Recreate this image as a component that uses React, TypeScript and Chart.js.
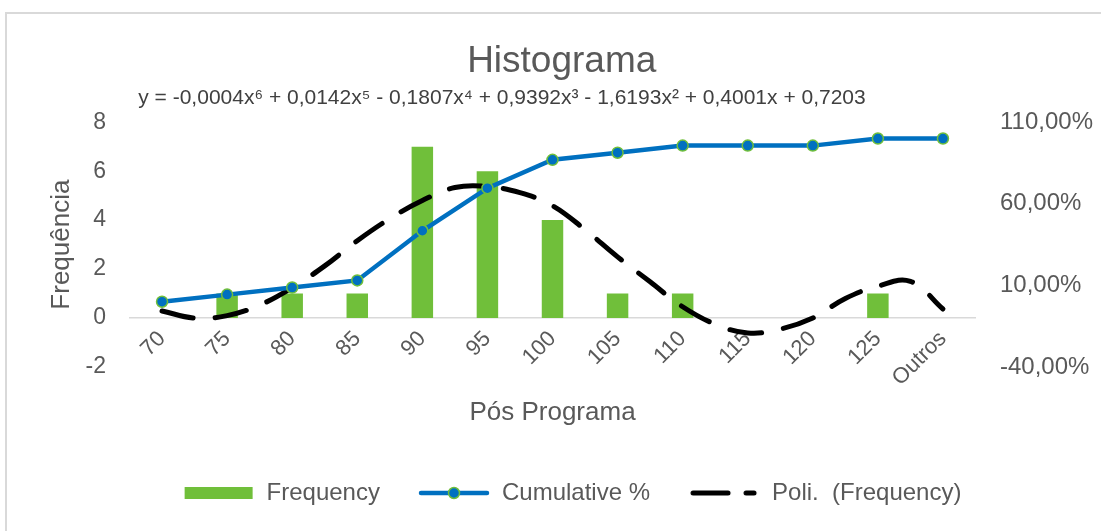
import React, { useEffect, useRef } from 'react';
import { Chart, registerables } from 'chart.js';

Chart.register(...registerables);

const categories = ['70', '75', '80', '85', '90', '95', '100', '105', '110', '115', '120', '125', 'Outros'];
const frequency = [0, 1, 1, 1, 7, 6, 4, 1, 1, 0, 0, 1, 0];
const cumulative = [0, 0.0435, 0.087, 0.1304, 0.4348, 0.6957, 0.8696, 0.913, 0.9565, 0.9565, 0.9565, 1, 1];
// polynomial trendline at half-category steps (1 = "70")
const polyX = [1, 1.5, 2, 2.5, 3, 3.5, 4, 4.5, 5, 5.5, 6, 6.5, 7, 7.5, 8, 8.5, 9, 9.5, 10, 10.5, 11, 11.5, 12, 12.5, 13];
const polyY = [0.29, 0.0, 0.1, 0.53, 1.24, 2.13, 3.16, 4.06, 4.8, 5.33, 5.37, 5.12, 4.59, 3.61, 2.5, 1.48, 0.46, -0.25, -0.61, -0.45, 0.0, 0.8, 1.3, 1.5, 0.37];
const leftTicks = { min: -2, max: 8, step: 2 };
const rightTicks = { min: -0.4, max: 1.1, step: 0.5 };

const titleText = 'Histograma';
const equationText = 'y = -0,0004x⁶ + 0,0142x⁵ - 0,1807x⁴ + 0,9392x³ - 1,6193x² + 0,4001x + 0,7203';

const GREEN = '#70BF3A';
const BLUE = '#0070C0';
const GREY_TEXT = '#595959';
const FONT = "'Liberation Sans', Arial, sans-serif";

function makeIcon(kind: string): HTMLCanvasElement {
  const c = document.createElement('canvas');
  c.width = 72;
  c.height = 16;
  const g = c.getContext('2d')!;
  if (kind === 'bar') {
    g.fillStyle = GREEN;
    g.fillRect(2, 2, 68, 12);
  } else if (kind === 'cum') {
    g.strokeStyle = BLUE;
    g.lineWidth = 4.5;
    g.lineCap = 'round';
    g.beginPath();
    g.moveTo(3, 8);
    g.lineTo(69, 8);
    g.stroke();
    g.beginPath();
    g.arc(36, 8, 5.5, 0, Math.PI * 2);
    g.fillStyle = BLUE;
    g.fill();
    g.lineWidth = 1.5;
    g.strokeStyle = GREEN;
    g.stroke();
  } else {
    g.strokeStyle = '#000';
    g.lineWidth = 5;
    g.lineCap = 'round';
    g.beginPath();
    g.moveTo(5, 8);
    g.lineTo(40, 8);
    g.moveTo(58, 8);
    g.lineTo(66, 8);
    g.stroke();
  }
  return c;
}

export default function App() {
  const ref = useRef<HTMLCanvasElement | null>(null);

  useEffect(() => {
    if (!ref.current) return;
    Chart.defaults.font.family = FONT;
    const icons = { bar: makeIcon('bar'), cum: makeIcon('cum'), poly: makeIcon('poly') };
    // trailing blanks only shift the centred texts (Excel places them off-centre)
    const pad = (n: number) => ' '.repeat(n);

    const chart = new Chart(ref.current, {
      type: 'bar',
      data: {
        labels: categories,
        datasets: [
          {
            type: 'bar',
            label: 'Frequency',
            data: frequency,
            backgroundColor: GREEN,
            barPercentage: 0.33,
            categoryPercentage: 1,
            grouped: false,
            xAxisID: 'x',
            yAxisID: 'y',
            order: 3,
          } as any,
          {
            type: 'line',
            label: 'Poli.  (Frequency)',
            data: polyX.map((x, i) => ({ x, y: polyY[i] })),
            xAxisID: 'x2',
            yAxisID: 'y',
            borderColor: '#000000',
            borderWidth: 5,
            borderDash: [32, 22],
            borderCapStyle: 'round',
            pointRadius: 0,
            tension: 0.4,
            fill: false,
            order: 2,
          } as any,
          {
            type: 'line',
            label: 'Cumulative %',
            data: cumulative,
            xAxisID: 'x',
            yAxisID: 'y1',
            borderColor: BLUE,
            borderWidth: 4.5,
            pointRadius: 5.5,
            pointBackgroundColor: BLUE,
            pointBorderColor: GREEN,
            pointBorderWidth: 1.5,
            tension: 0,
            fill: false,
            order: 1,
          } as any,
        ],
      },
      options: {
        animation: false,
        responsive: false,
        maintainAspectRatio: false,
        devicePixelRatio: 1,
        layout: { padding: { left: 43, right: 0, top: 0, bottom: 16 } },
        scales: {
          x: {
            type: 'category',
            position: { y: 0 } as any,
            offset: true,
            grid: { display: false, drawTicks: false },
            border: { display: true, color: '#D9D9D9', width: 1.5 },
            ticks: {
              minRotation: 45,
              maxRotation: 45,
              autoSkip: false,
              padding: 8,
              color: GREY_TEXT,
              font: { size: 22 },
            },
            title: {
              display: true,
              text: 'Pós Programa',
              color: GREY_TEXT,
              font: { size: 26 },
              padding: { top: 0, bottom: 0 },
            },
            afterFit: (s: any) => {
              s.height = 110;
            },
          },
          x2: {
            type: 'linear',
            display: false,
            offset: false,
            min: 0.5,
            max: 13.5,
          },
          y: {
            type: 'linear',
            position: 'left',
            min: leftTicks.min,
            max: leftTicks.max,
            grid: { display: false, drawTicks: false },
            border: { display: false },
            ticks: { stepSize: leftTicks.step, padding: 23.5, color: GREY_TEXT, font: { size: 23 } },
            title: {
              display: true,
              text: 'Frequência',
              color: GREY_TEXT,
              font: { size: 26 },
              padding: { top: 3.4, bottom: 0 },
            },
            afterFit: (s: any) => {
              s.width = 86.5;
            },
          },
          y1: {
            type: 'linear',
            position: 'right',
            min: rightTicks.min,
            max: rightTicks.max,
            grid: { display: false, drawTicks: false },
            border: { display: false },
            ticks: {
              stepSize: rightTicks.step,
              padding: 24.5,
              color: GREY_TEXT,
              font: { size: 24 },
              callback: (v: any) => (Math.round(Number(v) * 10000) / 100).toFixed(2).replace('.', ',') + '%',
            },
            afterFit: (s: any) => {
              s.width = 125.5;
            },
          },
        },
        plugins: {
          title: {
            display: true,
            text: titleText + pad(2),
            color: GREY_TEXT,
            font: { size: 37, weight: 'normal' },
            padding: { top: 39.8, bottom: 0 },
          },
          subtitle: {
            display: true,
            text: equationText + pad(24),
            color: '#404040',
            font: { size: 21, weight: 'normal' },
            padding: { top: 1.8, bottom: 11 },
          },
          legend: {
            display: true,
            position: 'bottom',
            title: {
              display: true,
              text: ' ',
              font: { size: 10 },
              padding: { top: 0, bottom: 64 },
            },
            labels: {
              usePointStyle: true,
              pointStyleWidth: 72,
              boxHeight: 16,
              padding: 38,
              color: GREY_TEXT,
              font: { size: 24 },
              generateLabels: () => [
                { text: 'Frequency', pointStyle: icons.bar, fillStyle: GREEN, strokeStyle: GREEN, lineWidth: 0, hidden: false, datasetIndex: 0, fontColor: GREY_TEXT } as any,
                { text: 'Cumulative %', pointStyle: icons.cum, fillStyle: BLUE, strokeStyle: BLUE, lineWidth: 0, hidden: false, datasetIndex: 2, fontColor: GREY_TEXT } as any,
                { text: 'Poli.  (Frequency)', pointStyle: icons.poly, fillStyle: '#000', strokeStyle: '#000', lineWidth: 0, hidden: false, datasetIndex: 1, fontColor: GREY_TEXT } as any,
              ],
            },
          },
          tooltip: { enabled: false },
        },
      } as any,
    });
    return () => chart.destroy();
  }, []);

  return (
    <div style={{ position: 'absolute', left: 0, top: 0, width: 1101, height: 531, background: '#fff', overflow: 'hidden' }}>
      <div
        style={{
          position: 'absolute',
          left: 5,
          top: 12,
          width: 1200,
          height: 600,
          borderLeft: '2px solid #D9D9D9',
          borderTop: '2px solid #D9D9D9',
        }}
      />
      <canvas ref={ref} width={1101} height={531} style={{ position: 'absolute', left: 0, top: 0, width: 1101, height: 531 }} />
    </div>
  );
}
